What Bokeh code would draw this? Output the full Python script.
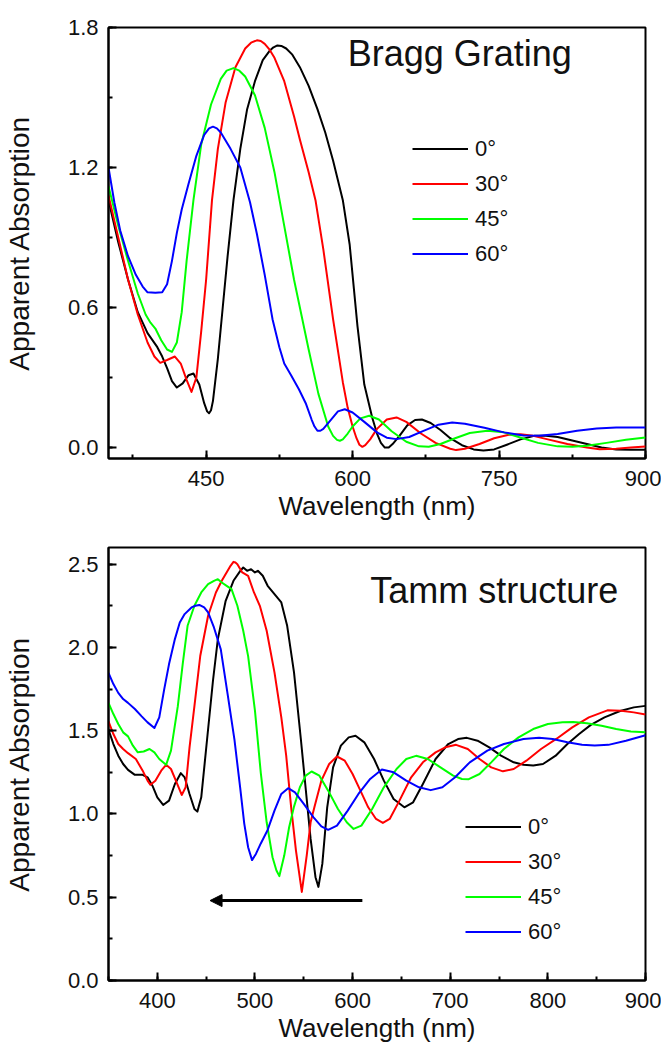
from bokeh.plotting import figure
from bokeh.layouts import column
from bokeh.models import (Range1d, SingleIntervalTicker, PrintfTickFormatter, Legend,
                          LegendItem, Arrow, NormalHead, Label)
from bokeh.embed import file_html
from bokeh.resources import INLINE

# ---------------- data ----------------
angle_labels = ["0°", "30°", "45°", "60°"]

# Bragg grating (top panel)
bragg_wl_0 = [350,360,370,380,390,400,405,410,415,420,426,432,437,443,448,451,453,455,457,462,467,472,478,485,492,500,508,515,519,523,527,532,538,546,555,564,572,580,590,597,605,612,620,625,629,633,637,641,648,656,664,671,680,690,700,712,724,734,745,758,772,786,798,810,825,840,855,870,885,900]
bragg_ab_0 = [1.06,0.88,0.72,0.58,0.49,0.43,0.39,0.34,0.285,0.257,0.275,0.31,0.317,0.27,0.19,0.155,0.147,0.16,0.20,0.38,0.60,0.82,1.06,1.28,1.45,1.57,1.66,1.70,1.715,1.723,1.721,1.71,1.685,1.63,1.55,1.45,1.35,1.23,1.06,0.87,0.52,0.27,0.13,0.06,0.02,0.0,0.0,0.015,0.05,0.095,0.118,0.12,0.105,0.075,0.04,0.01,-0.008,-0.013,-0.008,0.012,0.035,0.05,0.05,0.045,0.03,0.015,0.0,-0.008,-0.01,-0.01]

bragg_wl_30 = [350,360,370,380,390,397,403,410,418,424,430,435,440,445,450,456,462,470,480,490,496,502,506,510,515,520,530,540,546,555,562,570,580,590,595,600,604,607,610,613,618,625,635,645,655,670,685,700,706,715,730,745,760,772,785,800,820,840,853,870,885,900]
bragg_ab_30 = [1.08,0.90,0.72,0.57,0.45,0.39,0.363,0.375,0.39,0.36,0.29,0.238,0.30,0.50,0.72,1.06,1.28,1.48,1.63,1.71,1.735,1.745,1.742,1.73,1.705,1.67,1.57,1.42,1.32,1.18,1.06,0.85,0.55,0.28,0.17,0.09,0.04,0.012,0.003,0.01,0.035,0.08,0.12,0.129,0.11,0.06,0.02,-0.005,-0.011,-0.005,0.015,0.04,0.055,0.057,0.05,0.035,0.015,0.0,-0.007,-0.005,0.0,0.004]

bragg_wl_45 = [350,360,370,380,388,393,398,404,410,415,420,425,430,437,445,455,465,471,478,484,490,500,510,520,530,540,546,555,565,575,580,584,587,590,595,600,608,617,627,640,655,668,678,690,705,720,738,755,770,790,810,825,840,860,880,900]
bragg_ab_45 = [1.12,0.95,0.80,0.66,0.57,0.535,0.51,0.46,0.42,0.41,0.45,0.58,0.80,1.06,1.30,1.47,1.58,1.615,1.626,1.615,1.59,1.51,1.37,1.18,0.95,0.72,0.60,0.42,0.23,0.09,0.05,0.033,0.029,0.035,0.06,0.09,0.125,0.136,0.12,0.07,0.025,0.005,0.003,0.015,0.04,0.062,0.072,0.065,0.045,0.02,0.005,0.003,0.008,0.02,0.033,0.043]

bragg_wl_60 = [350,356,362,370,378,385,390,398,405,410,415,420,425,432,440,448,453,457,461,465,475,485,495,502,510,518,525,530,537,545,552,558,561,564,567,570,578,585,592,600,612,625,635,645,658,672,688,702,715,735,755,775,791,810,830,850,870,900]
bragg_ab_60 = [1.20,1.05,0.93,0.82,0.74,0.69,0.665,0.663,0.665,0.70,0.80,0.92,1.02,1.13,1.25,1.34,1.368,1.375,1.368,1.35,1.28,1.20,1.05,0.915,0.74,0.55,0.43,0.36,0.31,0.25,0.19,0.12,0.09,0.072,0.072,0.08,0.12,0.155,0.164,0.15,0.11,0.065,0.042,0.036,0.045,0.07,0.098,0.107,0.102,0.085,0.065,0.052,0.05,0.058,0.072,0.082,0.086,0.086]

# Tamm structure (bottom panel)
tamm_wl_0 = [350,355,360,365,370,377,385,390,395,400,406,412,418,424,428,433,438,441,445,451,457,462,470,478,485,488,492,496,500,503,508,513,520,527,533,540,547,552,557,562,565,569,574,580,588,596,603,612,622,632,642,653,662,672,685,698,708,717,728,740,752,765,775,785,795,808,820,832,844,858,874,888,900]
tamm_ab_0 = [1.506,1.42,1.35,1.30,1.265,1.235,1.235,1.22,1.17,1.10,1.054,1.08,1.18,1.245,1.22,1.12,1.03,1.014,1.10,1.45,1.80,2.05,2.28,2.40,2.46,2.48,2.46,2.47,2.45,2.46,2.43,2.37,2.32,2.27,2.13,1.85,1.45,1.15,0.85,0.62,0.562,0.70,1.04,1.28,1.41,1.46,1.47,1.43,1.33,1.20,1.09,1.04,1.07,1.18,1.33,1.42,1.45,1.457,1.44,1.40,1.35,1.31,1.295,1.291,1.30,1.35,1.42,1.48,1.535,1.58,1.618,1.64,1.649]

tamm_wl_30 = [350,355,360,365,370,378,385,390,393,398,404,409,414,419,425,429,433,438,444,452,460,466,472,475,478,480,482,487,493,499,505,512,520,527,532,537,542,548,553,557,561,568,576,584,592,600,608,616,624,631,638,648,660,672,685,695,706,718,730,742,754,765,778,793,809,825,842,861,875,888,900]
tamm_ab_30 = [1.556,1.48,1.42,1.39,1.365,1.33,1.26,1.20,1.175,1.20,1.26,1.295,1.27,1.20,1.114,1.16,1.40,1.647,1.95,2.19,2.33,2.40,2.46,2.49,2.514,2.51,2.50,2.45,2.43,2.33,2.25,2.10,1.85,1.58,1.35,1.044,0.78,0.532,0.75,0.95,1.044,1.20,1.30,1.345,1.32,1.24,1.14,1.04,0.97,0.946,0.97,1.08,1.22,1.31,1.37,1.40,1.415,1.39,1.33,1.28,1.256,1.27,1.32,1.39,1.452,1.52,1.58,1.622,1.62,1.61,1.597]

tamm_wl_45 = [350,355,360,365,370,375,380,386,392,397,402,409,414,421,426,431,438,445,452,458,462,466,471,476,482,488,493,500,506,512,518,522,525,530,535,540,546,552,558,566,575,585,594,601,609,620,632,645,655,665,677,690,703,712,719,730,742,755,770,785,800,815,826,840,855,870,885,900]
tamm_ab_45 = [1.667,1.60,1.54,1.49,1.466,1.41,1.37,1.375,1.39,1.37,1.33,1.295,1.38,1.647,1.90,2.13,2.25,2.33,2.38,2.40,2.41,2.39,2.37,2.35,2.25,2.10,1.948,1.62,1.245,0.95,0.74,0.66,0.627,0.75,0.92,1.044,1.16,1.23,1.255,1.23,1.14,1.03,0.95,0.91,0.93,1.03,1.16,1.27,1.33,1.349,1.33,1.28,1.23,1.21,1.209,1.24,1.31,1.39,1.46,1.51,1.54,1.55,1.552,1.545,1.53,1.51,1.495,1.49]

tamm_wl_60 = [350,355,360,365,370,377,384,390,397,402,407,412,418,423,428,435,439,443,448,452,458,465,472,479,485,489,493,497,501,506,513,520,527,534,541,550,560,568,575,584,595,606,618,630,642,655,668,680,692,705,720,738,755,775,791,805,820,835,848,862,880,900]
tamm_ab_60 = [1.847,1.78,1.727,1.69,1.667,1.63,1.586,1.55,1.516,1.58,1.747,1.90,2.05,2.15,2.20,2.24,2.25,2.255,2.24,2.21,2.12,1.988,1.72,1.446,1.15,0.944,0.80,0.723,0.76,0.823,0.904,1.02,1.12,1.155,1.13,1.06,0.98,0.925,0.905,0.93,1.02,1.12,1.21,1.267,1.25,1.20,1.16,1.143,1.16,1.22,1.31,1.38,1.42,1.45,1.457,1.45,1.43,1.415,1.411,1.415,1.44,1.473]

# shift arrow (Tamm panel), data coordinates
arrow_wl = [610, 454]
arrow_ab = 0.48

# ---------------- styling ----------------
FONT = "Liberation Sans"
COLORS = ["#000000", "#FF0000", "#00FF00", "#0000FF"]
FRAME_W = 539
B_LEFT = 106


def make_fig(height, b_top, b_bottom, y0, y1, x_int, y_int):
    p = figure(width=B_LEFT + FRAME_W + 16, height=height, output_backend="svg",
               toolbar_location=None, x_range=Range1d(350, 900), y_range=Range1d(y0, y1),
               min_border_left=B_LEFT, min_border_right=16, min_border_top=b_top,
               min_border_bottom=b_bottom, background_fill_color="white",
               border_fill_color="white")
    p.xgrid.visible = False
    p.ygrid.visible = False
    p.outline_line_color = "black"
    p.outline_line_width = 2
    p.outline_line_alpha = 1.0
    p.xaxis.ticker = SingleIntervalTicker(interval=x_int, num_minor_ticks=2)
    p.yaxis.ticker = SingleIntervalTicker(interval=y_int, num_minor_ticks=2)
    p.yaxis.formatter = PrintfTickFormatter(format="%.1f")
    for ax in (p.xaxis[0], p.yaxis[0]):
        ax.axis_line_width = 2
        ax.axis_line_color = "black"
        ax.major_tick_in = 8
        ax.major_tick_out = 0
        ax.minor_tick_in = 4
        ax.minor_tick_out = 0
        ax.major_tick_line_width = 2
        ax.minor_tick_line_width = 2
        ax.major_tick_line_color = "black"
        ax.minor_tick_line_color = "black"
        ax.major_label_text_font = FONT
        ax.major_label_text_font_size = "22px"
        ax.major_label_text_color = "#111111"
        ax.axis_label_text_font = FONT
        ax.axis_label_text_font_style = "normal"
        ax.axis_label_text_color = "#111111"
    p.xaxis.axis_label = "Wavelength (nm)"
    p.yaxis.axis_label = "Apparent Absorption"
    p.xaxis.axis_label_text_font_size = "26px"
    p.yaxis.axis_label_text_font_size = "28px"
    p.xaxis.major_label_standoff = 12
    p.xaxis.axis_label_standoff = 2
    p.yaxis.major_label_standoff = 10
    p.yaxis.axis_label_standoff = 30
    return p


def add_legend(p, renderers, loc):
    items = [LegendItem(label=lab, renderers=[r]) for lab, r in zip(angle_labels, renderers)]
    lg = Legend(items=items, location=loc, orientation="vertical", glyph_width=56,
                glyph_height=35, label_height=35, spacing=0, padding=0, margin=0,
                label_standoff=7, border_line_color=None, background_fill_alpha=0,
                label_text_font=FONT, label_text_font_size="22px",
                label_text_color="#111111")
    p.add_layout(lg)


# ---- top: Bragg grating ----
p1 = make_fig(533, 27, 75, -0.047, 1.8, 150, 0.6)
r1 = []
for wl, ab, c in zip([bragg_wl_0, bragg_wl_30, bragg_wl_45, bragg_wl_60],
                     [bragg_ab_0, bragg_ab_30, bragg_ab_45, bragg_ab_60], COLORS):
    r1.append(p1.line(wl, ab, line_color=c, line_width=2, line_join="round"))
add_legend(p1, r1, (304, 187))
p1.add_layout(Label(x=595, y=1.69, text="Bragg Grating", text_font=FONT,
                    text_font_size="36px", text_baseline="middle", text_color="#111111"))

# ---- bottom: Tamm structure ----
p2 = make_fig(516, 14, 69, 0.0, 2.6, 100, 0.5)
r2 = []
for wl, ab, c in zip([tamm_wl_0, tamm_wl_30, tamm_wl_45, tamm_wl_60],
                     [tamm_ab_0, tamm_ab_30, tamm_ab_45, tamm_ab_60], COLORS):
    r2.append(p2.line(wl, ab, line_color=c, line_width=2, line_join="round"))
add_legend(p2, r2, (357, 31))
p2.add_layout(Label(x=618, y=2.34, text="Tamm structure", text_font=FONT,
                    text_font_size="36px", text_baseline="middle", text_color="#111111"))
p2.add_layout(Arrow(end=NormalHead(size=12, fill_color="black", line_color="black"),
                    x_start=arrow_wl[0], y_start=arrow_ab, x_end=arrow_wl[1], y_end=arrow_ab,
                    line_width=3, line_color="black"))

layout = column(p1, p2)
open("out.html", "w").write(file_html(layout, INLINE))
